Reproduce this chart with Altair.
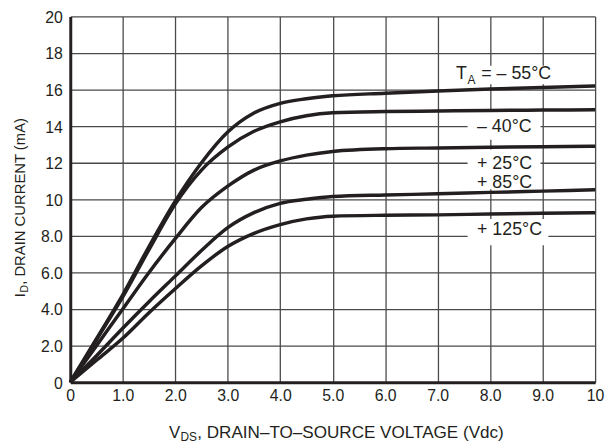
import altair as alt
import pandas as pd

# ---- data ----
vds = [0, 0.5, 1, 1.5, 2, 2.5, 3, 3.5, 4, 4.5, 5, 6, 7, 8, 9, 10]
id_m55 = [0, 2.38, 4.78, 7.42, 9.9, 12.0, 13.68, 14.72, 15.25, 15.5, 15.66, 15.8, 15.92, 16.03, 16.12, 16.2]
id_m40 = [0, 2.32, 4.66, 7.25, 9.74, 11.6, 12.85, 13.72, 14.24, 14.57, 14.73, 14.8, 14.83, 14.86, 14.88, 14.9]
id_p25 = [0, 2.0, 4.0, 6.0, 7.85, 9.55, 10.72, 11.6, 12.1, 12.42, 12.62, 12.77, 12.81, 12.85, 12.88, 12.9]
id_p85 = [0, 1.45, 2.95, 4.4, 5.8, 7.2, 8.45, 9.27, 9.78, 10.0, 10.15, 10.24, 10.3, 10.38, 10.45, 10.52]
id_p125 = [0, 1.2, 2.4, 3.8, 5.11, 6.36, 7.42, 8.14, 8.62, 8.93, 9.08, 9.13, 9.15, 9.2, 9.24, 9.27]
series_names = ["-55", "-40", "+25", "+85", "+125"]
series_vals = [id_m55, id_m40, id_p25, id_p85, id_p125]

x_ticks = [0, 1, 2, 3, 4, 5, 6, 7, 8, 9, 10]
y_ticks = [0, 2, 4, 6, 8, 10, 12, 14, 16, 18, 20]

# curve labels (data units)
label_text = ["T", "A", "= \u2013 55\u00b0C", "\u2013 40\u00b0C", "+ 25\u00b0C", "+ 85\u00b0C", "+ 125\u00b0C"]
label_x = [7.35, 7.57, 7.83, 7.75, 7.75, 7.75, 7.75]
label_y = [16.57, 16.33, 16.57, 13.69, 11.68, 10.6, 8.03]
label_fs = [18, 12, 18, 18, 18, 18, 18]

# white knock-out boxes behind labels (data units)
box_x1 = [7.23, 7.57, 7.57, 7.57]
box_x2 = [9.1, 8.96, 8.96, 9.11]
box_y1 = [16.3, 13.26, 10.55, 7.49]
box_y2 = [17.3, 14.77, 12.72, 8.92]

INK = "#231f20"
FONT = "Liberation Sans Narrow, Arial Narrow, Liberation Sans, Arial, sans-serif"

rows = []
for name, vals in zip(series_names, series_vals):
    for xv, yv in zip(vds, vals):
        rows.append({"series": name, "vds": xv, "id": yv})
df = pd.DataFrame(rows)

lab_df = pd.DataFrame({"x": label_x, "y": label_y, "t": label_text, "fs": label_fs})
box_df = pd.DataFrame({"x1": box_x1, "x2": box_x2, "y1": box_y1, "y2": box_y2})

xscale = alt.Scale(domain=[0, 10], nice=False, zero=False)
yscale = alt.Scale(domain=[0, 20], nice=False, zero=False)

label_expr = "datum.value == 0 ? '0' : (datum.value >= 10 ? format(datum.value, 'd') : format(datum.value, '.1f'))"

xaxis = alt.Axis(values=x_ticks, grid=True, ticks=False, labelExpr=label_expr,
                 labelFont=FONT, labelFontSize=16, labelColor=INK, labelPadding=6,
                 labelOverlap=False, labelFlush=False, labelBound=False,
                 gridColor="#4a4a4a", gridWidth=1.3, gridOpacity=1,
                 domainColor=INK, domainWidth=3, title=None)
yaxis = alt.Axis(values=y_ticks, grid=True, ticks=False, labelExpr=label_expr,
                 labelFont=FONT, labelFontSize=16, labelColor=INK, labelPadding=8,
                 labelOverlap=False, labelFlush=False, labelBound=False, labelOffset=1,
                 gridColor="#4a4a4a", gridWidth=1.3, gridOpacity=1,
                 domainColor=INK, domainWidth=3, title=None)

boxes = alt.Chart(box_df).mark_rect(color="white").encode(
    x=alt.X("x1:Q", scale=xscale, axis=xaxis),
    x2="x2:Q",
    y=alt.Y("y1:Q", scale=yscale, axis=yaxis),
    y2="y2:Q",
)

lines = alt.Chart(df).mark_line(interpolate="monotone", strokeWidth=3.5, color=INK).encode(
    x=alt.X("vds:Q", scale=xscale, axis=xaxis),
    y=alt.Y("id:Q", scale=yscale, axis=yaxis),
    detail="series:N",
)

labels = alt.Chart(lab_df).mark_text(align="left", baseline="alphabetic", font=FONT, color=INK).encode(
    x=alt.X("x:Q", scale=xscale, axis=xaxis),
    y=alt.Y("y:Q", scale=yscale, axis=yaxis),
    text="t:N",
    size=alt.Size("fs:Q", scale=None, legend=None),
)

# axis titles with subscripts (positions in plot pixels)
xt_df = pd.DataFrame({"t": ["V", "DS", ", DRAIN\u2013TO\u2013SOURCE VOLTAGE (Vdc)"],
                      "px": [100, 111.5, 128.5], "py": [426, 430, 426], "fs": [17, 12, 17.3]})
xtitle = alt.Chart(xt_df).mark_text(align="left", baseline="alphabetic", font=FONT, color=INK).encode(
    x=alt.X("px:Q", scale=None), y=alt.Y("py:Q", scale=None), text="t:N",
    size=alt.Size("fs:Q", scale=None, legend=None),
)
yt_df = pd.DataFrame({"t": ["I", "D", ", DRAIN CURRENT (mA)"],
                      "px": [-46, -42.5, -46], "py": [284, 279.5, 271.5], "fs": [15, 11, 15]})
ytitle = alt.Chart(yt_df).mark_text(align="left", baseline="alphabetic", font=FONT, color=INK, angle=270).encode(
    x=alt.X("px:Q", scale=None), y=alt.Y("py:Q", scale=None), text="t:N",
    size=alt.Size("fs:Q", scale=None, legend=None),
)

chart = alt.layer(boxes, lines, labels, xtitle, ytitle).properties(
    width=531, height=370,
    autosize=alt.AutoSizeParams(type="none"),
    padding={"left": 63, "top": 6, "right": 10, "bottom": 64},
).configure_view(strokeWidth=0).configure_axis(labelOverlap=False, labelFlush=False)

chart.save("out.html", embed_options={"renderer": "svg", "actions": False})
